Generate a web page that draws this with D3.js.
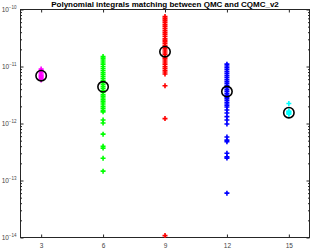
<!DOCTYPE html>
<html>
<head>
<meta charset="utf-8">
<script src="https://cdn.jsdelivr.net/npm/d3@7"></script>
<style>
  body { margin: 0; background: #fff; }
  svg { display: block; font-family: Helvetica, Arial, "Liberation Sans", sans-serif; }
</style>
</head>
<body>
<svg width="310" height="249"></svg>
<script>
// degrees on the x axis
var degrees = [3, 6, 9, 12, 15];
var colors = ["#ff00ff", "#00ff00", "#ff0000", "#0000ff", "#00ffff"];

// integration error per sample
var errDeg3 = [9.0e-12, 8.4e-12, 7.9e-12, 7.4e-12, 7.0e-12, 6.7e-12, 6.4e-12, 6.1e-12, 5.8e-12];
var errDeg6 = [1.5e-11, 1.4e-11, 1.3e-11, 1.2e-11, 1.1e-11, 1.0e-11, 9.2e-12, 8.5e-12, 7.8e-12,
  7.2e-12, 6.6e-12, 6.1e-12, 5.6e-12, 5.2e-12, 4.8e-12, 4.4e-12, 4.1e-12, 3.8e-12, 3.5e-12,
  3.2e-12, 3.0e-12, 2.8e-12, 2.6e-12, 2.4e-12, 2.2e-12, 2.0e-12, 1.85e-12, 1.7e-12, 1.6e-12,
  1.15e-12, 1.02e-12, 6.5e-13, 4.0e-13, 3.7e-13, 2.46e-13, 1.46e-13];
var errDeg9 = [7.5e-11, 7.0e-11, 6.5e-11, 6.0e-11, 5.5e-11, 5.1e-11, 4.7e-11, 4.3e-11, 4.0e-11,
  3.7e-11, 3.4e-11, 3.1e-11, 2.9e-11, 2.7e-11, 2.5e-11, 2.3e-11, 2.1e-11, 1.95e-11, 1.8e-11,
  1.65e-11, 1.5e-11, 1.4e-11, 1.3e-11, 1.2e-11, 1.1e-11, 1.0e-11, 9.3e-12, 8.6e-12, 8.0e-12,
  7.4e-12, 4.6e-12, 1.22e-12, 1.08e-14];
var errDeg12 = [1.1e-11, 1.02e-11, 9.5e-12, 8.8e-12, 8.1e-12, 7.5e-12, 6.9e-12, 6.4e-12, 5.9e-12,
  5.5e-12, 5.1e-12, 4.7e-12, 4.3e-12, 4.0e-12, 3.7e-12, 3.4e-12, 3.15e-12, 2.9e-12, 2.7e-12,
  2.5e-12, 2.3e-12, 2.1e-12, 1.95e-12, 1.73e-12, 1.53e-12, 1.32e-12, 1.15e-12, 9.8e-13,
  5.8e-13, 5.1e-13, 4.8e-13, 3.0e-13, 2.6e-13, 2.47e-13, 6.0e-14];
var errDeg15 = [2.25e-12, 1.65e-12, 1.6e-12, 1.55e-12, 1.5e-12, 1.45e-12];

// mean error per degree (black circles)
var meanErr = [6.9e-12, 4.4e-12, 1.82e-11, 3.63e-12, 1.55e-12];

var yMajor = [1e-14, 1e-13, 1e-12, 1e-11, 1e-10];
var yExp = ["\u221214", "\u221213", "\u221212", "\u221211", "\u221210"];
var titleText = "Polynomial integrals matching between QMC and CQMC_v2";

var series = [errDeg3, errDeg6, errDeg9, errDeg12, errDeg15];

var svg = d3.select("svg");
var mLeft = 20.5, mRight = 309.5, mTop = 9.5, mBottom = 237.5;
var axisColor = "#262626";

var x = d3.scaleLinear().domain([2, 16]).range([mLeft, mRight]);
var y = d3.scaleLog().domain([1e-14, 1e-10]).range([mBottom, mTop]);

// minor ticks on the log axis
var yMinor = [];
yMajor.slice(0, 4).forEach(function(d) {
  for (var k = 2; k <= 9; k++) yMinor.push(d * k);
});

// axes box
svg.append("rect")
  .attr("x", mLeft).attr("y", mTop)
  .attr("width", mRight - mLeft).attr("height", mBottom - mTop)
  .attr("fill", "none").attr("stroke", axisColor).attr("stroke-width", 1);

function styleAxis(g) {
  g.select(".domain").remove();
  g.selectAll("line").attr("stroke", axisColor);
  g.selectAll("text").attr("fill", "#444").style("font-size", "6.5px")
    .style("font-family", "Helvetica, Arial, 'Liberation Sans', sans-serif");
}

svg.append("g").attr("transform", "translate(0," + mBottom + ")")
  .call(d3.axisBottom(x).tickValues(degrees).tickSize(-3).tickPadding(6))
  .call(styleAxis);
svg.append("g").attr("transform", "translate(0," + mTop + ")")
  .call(d3.axisTop(x).tickValues(degrees).tickSize(-3).tickFormat(""))
  .call(styleAxis);

[[mLeft, d3.axisLeft], [mRight, d3.axisRight]].forEach(function(a) {
  svg.append("g").attr("transform", "translate(" + a[0] + ",0)")
    .call(a[1](y).tickValues(yMajor).tickSize(-3).tickFormat(""))
    .call(styleAxis);
  svg.append("g").attr("transform", "translate(" + a[0] + ",0)")
    .call(a[1](y).tickValues(yMinor).tickSize(-1.5).tickFormat(""))
    .call(styleAxis);
});

// y tick labels 10^n
var lab = svg.append("g").selectAll("text").data(yMajor).join("text")
  .attr("x", mLeft - 4)
  .attr("y", function(d) { return y(d) + 2.5; })
  .attr("text-anchor", "end")
  .attr("fill", "#444")
  .style("font-size", "6.5px");
lab.append("tspan").text("10");
lab.append("tspan").attr("dy", -3).style("font-size", "4.5px")
  .text(function(d, i) { return yExp[i]; });

// markers
var cross = "M-2.5,0H2.5M0,-2.5V2.5";
series.forEach(function(vals, i) {
  svg.append("g").selectAll("path").data(vals).join("path")
    .attr("d", cross)
    .attr("transform", function(d) { return "translate(" + x(degrees[i]) + "," + y(d) + ")"; })
    .attr("stroke", colors[i])
    .attr("stroke-width", 1.6)
    .attr("fill", "none");
});

svg.append("g").selectAll("circle").data(meanErr).join("circle")
  .attr("cx", function(d, i) { return x(degrees[i]); })
  .attr("cy", function(d) { return y(d); })
  .attr("r", 5.2)
  .attr("fill", "none")
  .attr("stroke", "#000")
  .attr("stroke-width", 1.6);

// title
svg.append("text")
  .attr("x", (mLeft + mRight) / 2)
  .attr("y", 7.2)
  .attr("text-anchor", "middle")
  .style("font-size", "8px")
  .style("font-weight", "bold")
  .attr("fill", "#000")
  .text(titleText);
</script>
</body>
</html>
